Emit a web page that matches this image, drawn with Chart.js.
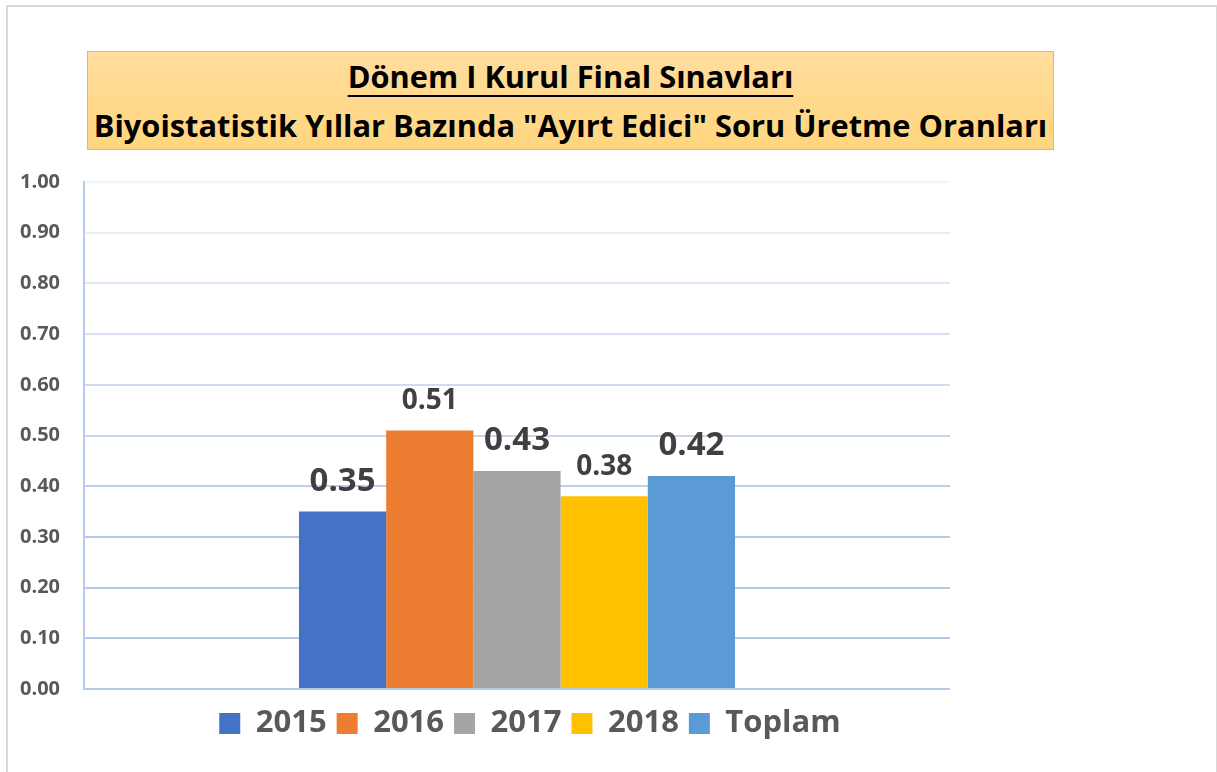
<!DOCTYPE html>
<html>
<head>
    <meta charset="utf-8">
    <title>Dönem I Kurul Final Sınavları</title>
    <style>
        body {
            margin: 0;
            padding: 0;
            background-color: #fff;
            font-family: "Open Sans", sans-serif;
        }

        .page {
            position: relative;
            width: 1217px;
            height: 772px;
            overflow: hidden;
        }

        .frame {
            position: absolute;
            left: 6px;
            top: 5px;
            width: 1208px;
            height: 800px;
            border: 2px solid #d9d9d9;
        }

        .title-box {
            position: absolute;
            left: 87px;
            top: 51px;
            width: 965px;
            height: 97px;
            background: linear-gradient(#ffdd9d, #ffd67e);
            border: 1px solid #ffc000;
            color: #000;
            font-weight: bold;
            font-size: 30.8px;
            line-height: normal;
            text-align: center;
            white-space: nowrap;
        }

        .title-box .l1 {
            position: absolute;
            left: 0;
            right: 0;
            top: 3px;
            text-decoration: underline;
            text-decoration-thickness: 2px;
            text-underline-offset: 7px;
        }

        .title-box .l2 {
            position: absolute;
            left: 0;
            right: 0;
            top: 52px;
        }

        .chart-wrap {
            position: absolute;
            left: 0;
            top: 0;
            width: 1217px;
            height: 772px;
        }
    </style>
</head>
<body>
<div class="page">
    <div class="frame"></div>
    <div class="title-box">
        <div class="l1">Dönem I Kurul Final Sınavları</div>
        <div class="l2">Biyoistatistik Yıllar Bazında "Ayırt Edici" Soru Üretme Oranları</div>
    </div>
    <div class="chart-wrap">
        <canvas id="oranChart" width="1217" height="772"></canvas>
    </div>
</div>

<script src="https://cdn.jsdelivr.net/npm/chart.js@4.4.1/dist/chart.umd.min.js"></script>
<script>
    const categories = [''];
    const seriesNames = ['2015', '2016', '2017', '2018', 'Toplam'];
    const seriesValues = [0.35, 0.51, 0.43, 0.38, 0.42];
    const yTicks = [0, 0.1, 0.2, 0.3, 0.4, 0.5, 0.6, 0.7, 0.8, 0.9, 1.0];

    const seriesColors = ['#4472c4', '#ed7d31', '#a5a5a5', '#ffc000', '#5b9bd5'];
    const labelSizes = [33, 28, 33, 28, 33];
    const fontFamily = '"Open Sans", sans-serif';

    function gridColor(value) {
        // pale near the top, stronger towards the base
        const a = [0xb6, 0xc8, 0xe8];
        const b = [0xf0, 0xf4, 0xfb];
        const t = Math.min(1, Math.max(0, (value - 0.3) / 0.7));
        const c = a.map((v, i) => Math.round(v + (b[i] - v) * t));
        return `rgb(${c[0]}, ${c[1]}, ${c[2]})`;
    }

    const valueLabels = {
        id: 'valueLabels',
        afterDatasetsDraw(chart) {
            const ctx = chart.ctx;
            ctx.save();
            ctx.fillStyle = '#404040';
            ctx.textAlign = 'center';
            ctx.textBaseline = 'alphabetic';
            chart.data.datasets.forEach((ds, i) => {
                const bar = chart.getDatasetMeta(i).data[0];
                ctx.font = `bold ${labelSizes[i]}px ${fontFamily}`;
                ctx.fillText(ds.data[0].toFixed(2), bar.x, bar.y - 21);
            });
            ctx.restore();
        }
    };

    const datasets = seriesNames.map((name, i) => ({
        label: name,
        data: [seriesValues[i]],
        backgroundColor: seriesColors[i],
        borderWidth: 0,
        barPercentage: 1,
        categoryPercentage: 0.5035,
        yAxisID: 'y'
    }));

    new Chart(document.getElementById('oranChart'), {
        type: 'bar',
        data: {
            labels: categories,
            datasets: datasets
        },
        options: {
            responsive: false,
            animation: false,
            layout: {
                padding: {top: 182, right: 157, bottom: 23, left: 0}
            },
            scales: {
                x: {
                    display: true,
                    afterFit: scale => {
                        scale.height = 9;
                    },
                    ticks: {display: false},
                    grid: {display: false, drawTicks: false},
                    border: {display: false}
                },
                y: {
                    min: 0,
                    max: 1,
                    afterBuildTicks: scale => {
                        scale.ticks = yTicks.map(v => ({value: v}));
                    },
                    afterFit: scale => {
                        scale.width = 84;
                    },
                    ticks: {
                        padding: 24,
                        color: '#595959',
                        font: {family: fontFamily, size: 20, weight: 'bold'},
                        callback: v => Number(v).toFixed(2)
                    },
                    grid: {
                        drawTicks: false,
                        lineWidth: 2,
                        color: c => gridColor(c.tick ? c.tick.value : 0)
                    },
                    border: {
                        color: '#b9cbea',
                        width: 2
                    }
                },
                y2: {
                    position: 'right',
                    display: true,
                    afterFit: scale => {
                        scale.width = 110;
                    },
                    ticks: {display: false},
                    grid: {display: false, drawTicks: false},
                    border: {display: false}
                }
            },
            plugins: {
                title: {display: false},
                tooltip: {enabled: false},
                legend: {
                    position: 'bottom',
                    labels: {
                        boxWidth: 21,
                        boxHeight: 21,
                        padding: 10,
                        color: '#595959',
                        font: {family: fontFamily, size: 31, weight: 'bold'}
                    }
                }
            }
        },
        plugins: [valueLabels]
    });
</script>
</body>
</html>
